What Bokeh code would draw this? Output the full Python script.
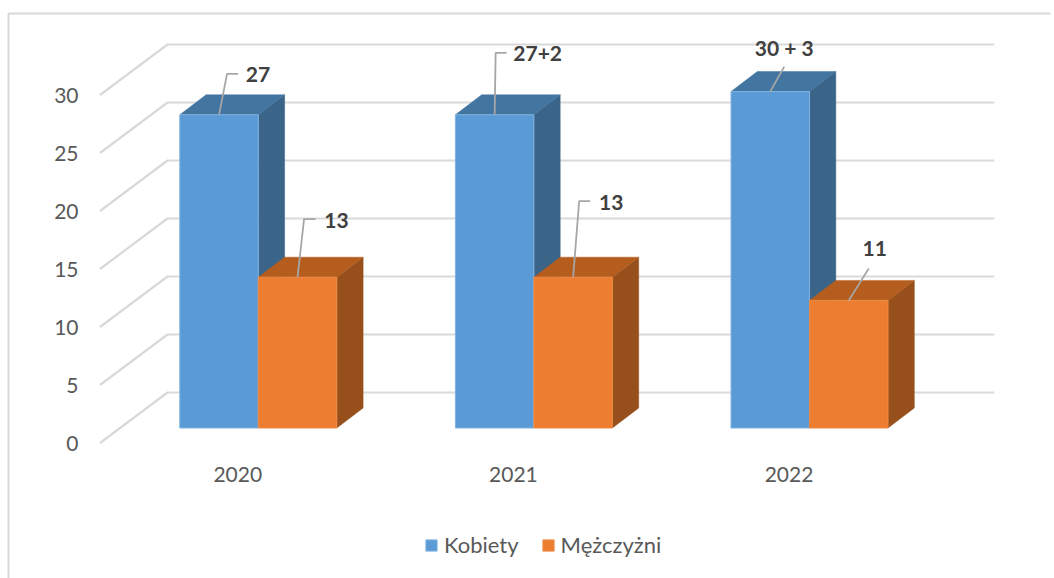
from bokeh.plotting import figure
from bokeh.models import Range1d, FixedTicker, Legend, LegendItem
from bokeh.core.properties import value
from bokeh.embed import file_html
from bokeh.resources import INLINE

# ---- data ----
years = ["2020", "2021", "2022"]
kobiety = [27, 27, 29]
mezczyzni = [13, 13, 11]
kobiety_labels = ["27", "27+2", "30 + 3"]
mezczyzni_labels = ["13", "13", "11"]
y_ticks = [0, 5, 10, 15, 20, 25, 30]

# ---- layout (pixels of the picture) ----
W, H = 1054, 578
M = 0             # picture pixel of the figure's corner
PX_X = 275.6      # pixels per category
PX_Y = 11.6       # pixels per value unit
ORIGIN_X = 99.5   # picture x of the front-left floor corner
ORIGIN_Y = 442.5  # picture y of value 0 on the front plane
WALL_DX, WALL_DY = 67.5, 50.5
BAR_LIFT_X, BAR_LIFT_Y = 20.5, 15.0
BAR_W = 78.5
BAR_DX, BAR_DY = 26.3, 20.0

FONT = value("Lato")
GRID = "#D9D9D9"
TEXT = "#595959"
BLUE, BLUE_TOP, BLUE_SIDE, BLUE_EDGE = "#5B9BD5", "#4375A1", "#3A6488", "#7FB2E3"
ORANGE, ORANGE_TOP, ORANGE_SIDE, ORANGE_EDGE = "#ED7D31", "#B45D1F", "#974F1B", "#EE8A47"


def ux(px):
    return px / PX_X


def uy(px):
    return px / PX_Y


def px_x(px):
    return (px - ORIGIN_X) / PX_X


def px_y(px):
    return (ORIGIN_Y - px) / PX_Y


p = figure(width=W, height=H, output_backend="svg", toolbar_location=None,
           x_range=Range1d(px_x(M), px_x(M + W)),
           y_range=Range1d(px_y(M + H), px_y(M)),
           min_border_left=0, min_border_right=0,
           min_border_top=0, min_border_bottom=0,
           outline_line_color=None, background_fill_color="white")
p.xgrid.visible = False
p.ygrid.visible = False

# axes sit inside the frame at fixed places
for ax in (p.xaxis[0], p.yaxis[0]):
    ax.axis_line_color = None
    ax.major_tick_line_color = None
    ax.minor_tick_line_color = None
    ax.major_tick_out = 0
    ax.major_tick_in = 0
    ax.minor_tick_out = 0
    ax.minor_tick_in = 0
    ax.major_label_text_font = "Lato"
    ax.major_label_text_font_size = "21px"
    ax.major_label_text_color = TEXT
p.yaxis[0].ticker = FixedTicker(ticks=y_ticks)
p.yaxis[0].fixed_location = px_x(84)
p.yaxis[0].major_label_standoff = 6
p.xaxis[0].ticker = FixedTicker(ticks=[i + 0.5 for i in range(len(years))])
p.xaxis[0].major_label_overrides = {i + 0.5: y for i, y in enumerate(years)}
p.xaxis[0].fixed_location = px_y(458)
p.xaxis[0].major_label_standoff = 8

# chart border: left and top edges
p.line([px_x(8), px_x(8), px_x(1050)], [px_y(600), px_y(13), px_y(13)],
       line_color=GRID, line_width=2)

# wall and floor gridlines
grid_xs = [[0, ux(WALL_DX), len(years) + ux(WALL_DX)] for _ in y_ticks]
grid_ys = [[t, t + uy(WALL_DY), t + uy(WALL_DY)] for t in y_ticks]
p.multi_line(grid_xs, grid_ys, line_color=GRID, line_width=2.2)


def draw_series(values, x_shift, front, top, side, edge):
    lefts = [i + 0.5 + ux(BAR_LIFT_X) + x_shift for i in range(len(values))]
    bw, dx, dy, lift = ux(BAR_W), ux(BAR_DX), uy(BAR_DY), uy(BAR_LIFT_Y)
    side_xs = [[l + bw, l + bw + dx, l + bw + dx, l + bw] for l in lefts]
    side_ys = [[lift, lift + dy, lift + v + dy, lift + v] for v in values]
    p.patches(side_xs, side_ys, fill_color=side, line_color=side, line_width=0.5)
    top_xs = [[l, l + dx, l + bw + dx, l + bw] for l in lefts]
    top_ys = [[lift + v, lift + v + dy, lift + v + dy, lift + v] for v in values]
    p.patches(top_xs, top_ys, fill_color=top, line_color=top, line_width=0.5)
    return p.vbar(x=[l + bw / 2 for l in lefts], width=bw,
                  bottom=[lift] * len(values), top=[lift + v for v in values],
                  fill_color=front, line_color=edge, line_width=1)


BW = ux(BAR_W)
# the orange boxes are drawn after the blue ones so they overlap the blue sides
r_k = draw_series(kobiety, -BW, BLUE, BLUE_TOP, BLUE_SIDE, BLUE_EDGE)
r_m = draw_series(mezczyzni, 0, ORANGE, ORANGE_TOP, ORANGE_SIDE, ORANGE_EDGE)

# data labels with leader lines: offsets (px) from each bar's top centre
kob_leaders = [[(8, 41), (19, 41)], [(1, 62), (12, 62)], [(14, 25)]]
men_leaders = [[(6.5, 58), (18, 58)], [(6, 76), (17, 76)], [(20, 32)]]
kob_text_off = [(39, 40), (43, 61), (14, 44)]
men_text_off = [(39, 57), (38, 75), (26, 52)]


def draw_labels(values, labels, x_shift, leaders, offs):
    lift = uy(BAR_LIFT_Y)
    cx = [i + 0.5 + ux(BAR_LIFT_X) + x_shift + BW / 2 for i in range(len(values))]
    cy = [lift + v for v in values]
    xs = [[c] + [c + ux(a) for a, _ in l] for c, l in zip(cx, leaders)]
    ys = [[t] + [t + uy(b) for _, b in l] for t, l in zip(cy, leaders)]
    p.multi_line(xs, ys, line_color="#A6A6A6", line_width=1.8)
    p.text(x=[c + ux(a) for c, (a, _) in zip(cx, offs)],
           y=[t + uy(b) for t, (_, b) in zip(cy, offs)],
           text=labels, text_font=FONT, text_font_style="bold",
           text_font_size="21px", text_color="#404040",
           text_align="center", text_baseline="middle")


draw_labels(kobiety, kobiety_labels, -BW, kob_leaders, kob_text_off)
draw_labels(mezczyzni, mezczyzni_labels, 0, men_leaders, men_text_off)

# legend, placed in frame pixels measured from the lower left
legend = Legend(items=[LegendItem(label="Kobiety", renderers=[r_k]),
                       LegendItem(label="Mężczyżni", renderers=[r_m])],
                orientation="horizontal", border_line_color=None,
                background_fill_alpha=0, padding=0, margin=0, spacing=22,
                glyph_width=14, glyph_height=14, label_standoff=6,
                label_text_font="Lato", label_text_font_size="22px",
                label_text_color=TEXT,
                location=(424 - M, (M + H) - 558))
p.add_layout(legend)

open("out.html", "w").write(file_html(p, INLINE))
